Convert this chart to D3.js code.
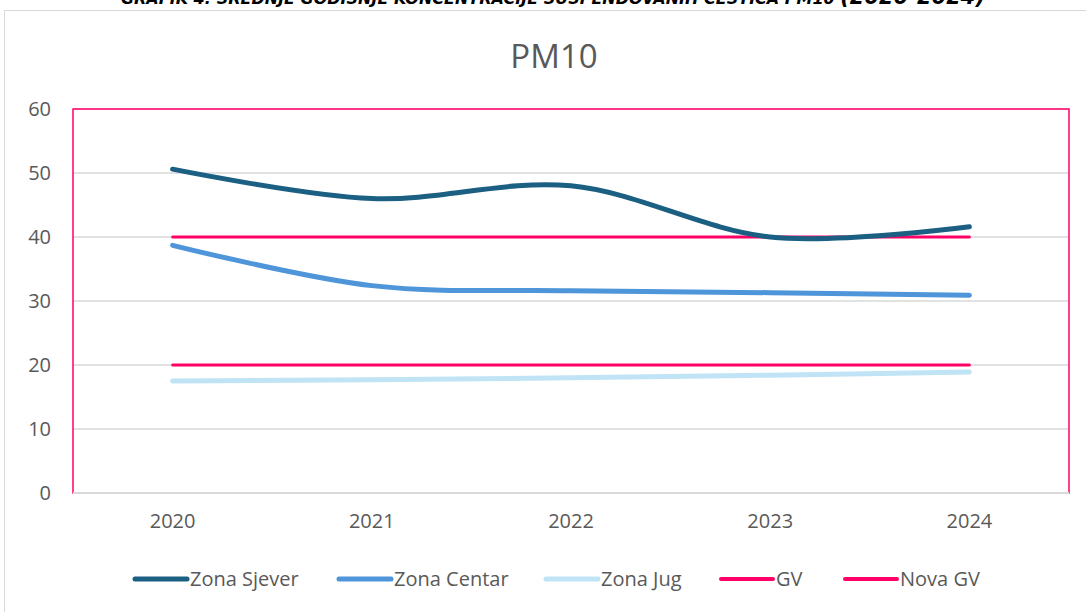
<!DOCTYPE html>
<html>
<head>
<meta charset="utf-8">
<script src="https://cdn.jsdelivr.net/npm/d3@7"></script>
<style>
  body { margin: 0; background: #fff; }
  svg { display: block; }
</style>
</head>
<body>
<div id="chart"></div>
<script>
// data
const years = ["2020", "2021", "2022", "2023", "2024"];
const zonaSjever = [50.6, 46.0, 48.0, 40.0, 41.6];
const zonaCentar = [38.7, 32.4, 31.6, 31.3, 30.9];
const zonaJug = [17.5, 17.7, 18.0, 18.4, 18.9];
const gv = [40, 40, 40, 40, 40];
const novaGv = [20, 20, 20, 20, 20];
const yTicks = [0, 10, 20, 30, 40, 50, 60];

const seriesNames = ["Zona Sjever", "Zona Centar", "Zona Jug", "GV", "Nova GV"];
const seriesColors = ["#1B5F82", "#4E95D9", "#C0E4F5", "#FF0066", "#FF0066"];
const seriesWidths = [5, 5, 5, 3, 3];
const seriesSmooth = [true, true, true, false, false];

const series = [zonaSjever, zonaCentar, zonaJug, gv, novaGv].map((vals, i) => ({
  name: seriesNames[i],
  color: seriesColors[i],
  width: seriesWidths[i],
  smooth: seriesSmooth[i],
  values: vals.map((v, j) => [years[j], v])
}));

const W = 1086, H = 612;
const margin = { top: 109, right: 17, bottom: 119, left: 73 };
const innerW = W - margin.left - margin.right;
const innerH = H - margin.top - margin.bottom;
const font = "'Open Sans', sans-serif";

const svg = d3.select("#chart").append("svg")
  .attr("width", W)
  .attr("height", H);

// outer chart frame
svg.append("rect")
  .attr("x", 4.5).attr("y", 10.5)
  .attr("width", W + 10).attr("height", H + 10)
  .attr("fill", "none")
  .attr("stroke", "#D9D9D9")
  .attr("stroke-width", 1);

// document caption, cut off at the top
svg.append("text")
  .attr("x", 553)
  .attr("y", 4)
  .attr("font-family", "'DejaVu Sans', sans-serif")
  .attr("font-weight", "bold")
  .attr("font-style", "italic")
  .attr("font-size", "16px")
  .attr("fill", "#000")
  .style("text-anchor", "middle")
  .text("GRAFIK 4: SREDNJE GODIŠNJE KONCENTRACIJE SUSPENDOVANIH ČESTICA PM10 ")
  .append("tspan")
  .attr("font-size", "21px")
  .text("(2020-2024)");

// chart title
svg.append("text")
  .attr("x", 554)
  .attr("y", 68)
  .attr("font-family", font)
  .attr("font-size", "33px")
  .attr("fill", "#595959")
  .style("text-anchor", "middle")
  .text("PM10");

const g = svg.append("g")
  .attr("transform", `translate(${margin.left},${margin.top})`);

const xScale = d3.scaleBand().domain(years).range([0, innerW]);
const yScale = d3.scaleLinear().domain([0, 60]).range([innerH, 0]);

// gridlines
g.append("g")
  .attr("class", "grid")
  .selectAll("line")
  .data(yTicks)
  .enter()
  .append("line")
  .attr("x1", 0)
  .attr("x2", innerW)
  .attr("y1", d => yScale(d))
  .attr("y2", d => yScale(d))
  .style("stroke", "#D9D9D9")
  .style("stroke-width", 1.5);

// plot area border (pink)
g.append("rect")
  .attr("x", 0).attr("y", 0)
  .attr("width", innerW).attr("height", innerH)
  .style("fill", "none")
  .style("stroke", "#FF0066")
  .style("stroke-width", 1.5);

// x axis line
g.append("line")
  .attr("x1", 0).attr("x2", innerW)
  .attr("y1", innerH).attr("y2", innerH)
  .style("stroke", "#D9D9D9")
  .style("stroke-width", 2);

// y axis labels
const yAxis = d3.axisLeft(yScale).tickValues(yTicks).tickSize(0).tickPadding(22);
g.append("g")
  .attr("id", "yAxis")
  .call(yAxis)
  .call(s => s.select(".domain").remove())
  .selectAll("text")
  .attr("font-family", font)
  .attr("font-size", "20px")
  .attr("fill", "#595959");

// x axis labels
const xAxis = d3.axisBottom(xScale).tickSize(0).tickPadding(21);
g.append("g")
  .attr("id", "xAxis")
  .attr("transform", `translate(0,${innerH})`)
  .call(xAxis)
  .call(s => s.select(".domain").remove())
  .selectAll("text")
  .attr("font-family", font)
  .attr("font-size", "20px")
  .attr("fill", "#595959");

const xc = d => xScale(d) + xScale.bandwidth() / 2;

const lineSmooth = d3.line()
  .x(d => xc(d[0]))
  .y(d => yScale(d[1]))
  .curve(d3.curveCardinal.tension(0));

const lineStraight = d3.line()
  .x(d => xc(d[0]))
  .y(d => yScale(d[1]));

// draw limit lines first, then the zones on top in Excel order
const drawOrder = [3, 4, 2, 1, 0];
g.append("g")
  .attr("class", "line-plots")
  .selectAll("path")
  .data(drawOrder.map(i => series[i]))
  .enter()
  .append("path")
  .attr("d", d => (d.smooth ? lineSmooth : lineStraight)(d.values))
  .style("fill", "none")
  .style("stroke", d => d.color)
  .style("stroke-width", d => d.width)
  .style("stroke-linecap", "round");

// legend
const legendX = [133, 337, 544, 719, 843];
const legend = svg.append("g").attr("id", "legend");
const items = legend.selectAll("g")
  .data(series)
  .enter()
  .append("g")
  .attr("transform", (d, i) => `translate(${legendX[i]},579)`);

items.append("line")
  .attr("x1", 2).attr("x2", 54)
  .attr("y1", 0).attr("y2", 0)
  .style("stroke", d => d.color)
  .style("stroke-width", d => d.width === 5 ? 5 : 4)
  .style("stroke-linecap", "round");

items.append("text")
  .attr("x", 57)
  .attr("y", 0)
  .attr("dy", "0.35em")
  .attr("font-family", font)
  .attr("font-size", "20px")
  .attr("fill", "#595959")
  .text(d => d.name);
</script>
</body>
</html>
